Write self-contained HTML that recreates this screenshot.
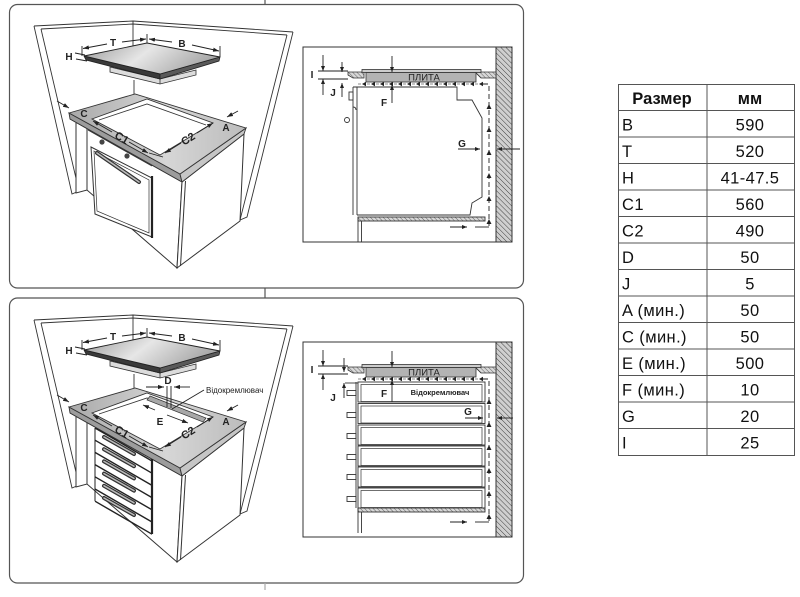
<!DOCTYPE html>
<html><head><meta charset="utf-8"><style>
html,body{margin:0;padding:0;background:#fff;width:800px;height:597px;overflow:hidden}
svg{display:block}
.l{font-family:"Liberation Sans",sans-serif;font-weight:bold;font-size:10px;fill:#222}
.t{font-family:"Liberation Sans",sans-serif;font-size:16.5px;fill:#111;letter-spacing:0.4px}
.tb{font-family:"Liberation Sans",sans-serif;font-size:16.5px;font-weight:bold;fill:#111}
</style></head><body>
<svg width="800" height="597" viewBox="0 0 800 597" xmlns="http://www.w3.org/2000/svg">
<defs>
<marker id="a" viewBox="0 0 10 10" refX="10" refY="5" markerWidth="6" markerHeight="6" orient="auto-start-reverse" markerUnits="userSpaceOnUse"><path d="M0,1.5L10,5L0,8.5z" fill="#222"/></marker>
<marker id="b" viewBox="0 0 10 10" refX="10" refY="5" markerWidth="5" markerHeight="5" orient="auto-start-reverse" markerUnits="userSpaceOnUse"><path d="M0,1L10,5L0,9z" fill="#222"/></marker>
<pattern id="hatch" width="3.6" height="3.6" patternUnits="userSpaceOnUse" patternTransform="rotate(-45)"><rect width="3.6" height="3.6" fill="#cfcfcf"/><line x1="0" y1="0" x2="0" y2="3.6" stroke="#333" stroke-width="0.9"/></pattern>
<pattern id="hatch2" width="3" height="3" patternUnits="userSpaceOnUse" patternTransform="rotate(-45)"><rect width="3" height="3" fill="#d8d8d8"/><line x1="0" y1="0" x2="0" y2="3" stroke="#444" stroke-width="0.8"/></pattern>
<linearGradient id="gc" x1="0" y1="0" x2="1" y2="0"><stop offset="0" stop-color="#a9a9a9"/><stop offset="0.55" stop-color="#d6d6d6"/><stop offset="1" stop-color="#bcbcbc"/></linearGradient>
<linearGradient id="gh" x1="0" y1="0" x2="1" y2="0.3"><stop offset="0" stop-color="#9a9a9a"/><stop offset="0.5" stop-color="#e6e6e6"/><stop offset="1" stop-color="#a8a8a8"/></linearGradient>

<!-- common 3D drawing -->
<g id="c3">
 <g fill="none" stroke="#333" stroke-width="0.9">
  <polyline points="34,26 133,21 293,32"/>
  <polyline points="41,29 133,24 287,35"/>
  <polyline points="34,26 72,194 79,191 41,29"/>
  <polyline points="293,32 247,217 240,220 287,35"/>
  <line x1="133" y1="21" x2="133" y2="46"/>
  <line x1="134" y1="80" x2="134" y2="96"/>
 </g>
 <!-- hob -->
 <polygon points="110,67 160,79 196,70 196,75 160,84 110,72" fill="#dcdcdc" stroke="#333" stroke-width="0.8"/>
 <line x1="160" y1="79" x2="160" y2="84" stroke="#333" stroke-width="0.8"/>
 <polygon points="84,56 160,74 160,79 86,60" fill="#3a3a3a" stroke="#222" stroke-width="0.8"/>
 <polygon points="160,74 220,57 219,61 160,79" fill="#5a5a5a" stroke="#222" stroke-width="0.8"/>
 <polygon points="84,56 147,43 220,57 160,74" fill="url(#gh)" stroke="#222" stroke-width="0.9"/>
 <!-- cabinet -->
 <polygon points="70,119 182,182 177,268 87,190 76,193 76,122" fill="#fff" stroke="#333"/>
 <line x1="87" y1="125" x2="87" y2="190" stroke="#333"/>
 <polygon points="182,182 244,134 240,221 177,268" fill="#fff" stroke="#333"/>
 <line x1="185.5" y1="181" x2="180.5" y2="266" stroke="#333"/>
 <!-- counter -->
 <polygon points="69,113 180,174 182,182 70,119" fill="#9c9c9c" stroke="#333" stroke-width="0.9"/>
 <polygon points="180,174 246,128 244,134 182,182" fill="#c6c6c6" stroke="#333" stroke-width="0.9"/>
 <polygon points="69,113 135,94 246,128 180,174" fill="url(#gc)" stroke="#333" stroke-width="0.9"/>
 <polygon points="92,119 147,99 213,123 160,155" fill="#fff" stroke="#333" stroke-width="0.9"/>
 <polyline points="99,120 147,104 206,125" fill="none" stroke="#333" stroke-width="0.9"/>
 <!-- dims -->
 <g stroke="#222" stroke-width="0.9" fill="none">
  <line x1="82" y1="46" x2="82" y2="56"/>
  <line x1="147" y1="34" x2="147" y2="43"/>
  <line x1="220" y1="46" x2="220" y2="57"/>
  <line x1="107" y1="44" x2="83" y2="48.5" marker-end="url(#a)"/>
  <line x1="122" y1="42" x2="146" y2="39" marker-end="url(#a)"/>
  <line x1="172" y1="42" x2="149" y2="39" marker-end="url(#a)"/>
  <line x1="192" y1="45" x2="219" y2="51" marker-end="url(#a)"/>
  <line x1="75" y1="53" x2="85" y2="55"/>
  <line x1="76" y1="59" x2="87" y2="61"/>
  <line x1="57" y1="101" x2="69" y2="108" marker-end="url(#a)"/>
  <line x1="238" y1="111" x2="227" y2="117" marker-end="url(#a)"/>
  <line x1="112" y1="132" x2="93" y2="121" marker-end="url(#a)"/>
  <line x1="129" y1="142" x2="148" y2="153" marker-end="url(#a)"/>
  <line x1="181" y1="143" x2="165" y2="153" marker-end="url(#a)"/>
  <line x1="197" y1="133" x2="213" y2="123" marker-end="url(#a)"/>
  <line x1="149" y1="153" x2="163" y2="157"/>
 </g>
 <text class="l" x="113" y="46" text-anchor="middle">T</text>
 <text class="l" x="182" y="47" text-anchor="middle">B</text>
 <text class="l" x="69" y="60" text-anchor="middle">H</text>
 <text class="l" x="84" y="117" text-anchor="middle">C</text>
 <text class="l" x="226" y="131" text-anchor="middle">A</text>
 <text class="l" x="0" y="0" text-anchor="middle" style="font-size:11px" transform="translate(120,141) rotate(30)">C1</text>
 <text class="l" x="0" y="0" text-anchor="middle" style="font-size:11px" transform="translate(190,142) rotate(-32)">C2</text>
</g>

<!-- common side view -->
<g id="sv">
 <rect x="303" y="47" width="209" height="195" fill="none" stroke="#333" stroke-width="1"/>
 <rect x="496" y="47" width="16" height="195" fill="url(#hatch)" stroke="#333" stroke-width="1"/>
 <polygon points="348,72 364,72 364,78 353,78 348,75" fill="url(#hatch2)" stroke="#333" stroke-width="0.8"/>
 <polygon points="475,72 496,72 496,78 481,78" fill="url(#hatch2)" stroke="#333" stroke-width="0.8"/>
 <rect x="362" y="69.5" width="119" height="3" fill="#cdcdcd" stroke="#333" stroke-width="0.8"/>
 <rect x="366" y="72.5" width="110" height="9.5" fill="#b3b3b3" stroke="#333" stroke-width="0.8"/>
 <text x="424" y="80.6" text-anchor="middle" style="font-family:'Liberation Sans',sans-serif;font-size:9.5px;fill:#222">ПЛИТА</text>
 <line x1="318" y1="71" x2="348" y2="71" stroke="#222" stroke-width="0.9"/>
 <line x1="318" y1="79" x2="348" y2="79" stroke="#222" stroke-width="0.9"/>
 <line x1="358" y1="84" x2="486" y2="84" stroke="#666" stroke-width="0.7" stroke-dasharray="3,6"/>
 <path fill="#222" d="M362,84l4,-2.2v4.4z M371,84l4,-2.2v4.4z M380,84l4,-2.2v4.4z M389,84l4,-2.2v4.4z M398,84l4,-2.2v4.4z M407,84l4,-2.2v4.4z M416,84l4,-2.2v4.4z M425,84l4,-2.2v4.4z M434,84l4,-2.2v4.4z M443,84l4,-2.2v4.4z M452,84l4,-2.2v4.4z M461,84l4,-2.2v4.4z M470,84l4,-2.2v4.4z M479,84l4,-2.2v4.4z"/>
 <polyline points="483,84 489,84 489,226" fill="none" stroke="#222" stroke-width="0.9" stroke-dasharray="5,3"/>
 <path fill="#222" d="M489,104l-2.5,5h5z M489,127l-2.5,5h5z M489,150l-2.5,5h5z M489,173l-2.5,5h5z M489,196l-2.5,5h5z M489,219l-2.5,5h5z"/>
 <line x1="450" y1="227" x2="467" y2="227" stroke="#222" stroke-width="0.9" marker-end="url(#b)"/>
 <line x1="475" y1="227" x2="489" y2="227" stroke="#222" stroke-width="0.9"/>
 <line x1="323" y1="55" x2="323" y2="71" stroke="#222" stroke-width="0.9" marker-end="url(#b)"/>
 <line x1="392" y1="56" x2="392" y2="72" stroke="#222" stroke-width="0.9" marker-end="url(#b)"/>
</g>
</defs>

<!-- panels -->
<g fill="none" stroke="#555" stroke-width="1.2">
 <rect x="9.5" y="4.5" width="514" height="283.5" rx="8"/>
 <rect x="9.5" y="298" width="514" height="285" rx="8"/>
 <line x1="265" y1="0" x2="265" y2="4"/>
 <line x1="265" y1="288" x2="265" y2="298"/>
 <line x1="265" y1="583" x2="265" y2="590" stroke="#aaa"/>
</g>

<!-- TOP 3D -->
<use href="#c3"/>
<!-- oven -->
<g stroke="#333" fill="none">
 <line x1="88" y1="130" x2="152" y2="166"/>
 <polygon points="91,147 152,178 152,237 95,214" fill="#fff"/>
 <polygon points="94,151 149,180 149,233 97,211" stroke-width="0.7"/>
 <line x1="152" y1="176" x2="152" y2="238" stroke="#222" stroke-width="2.2"/>
 <line x1="97" y1="153" x2="139" y2="182" stroke="#333" stroke-width="4" stroke-linecap="round"/>
 <line x1="97" y1="153" x2="139" y2="182" stroke="#bbb" stroke-width="1.6" stroke-linecap="round"/>
</g>
<circle cx="102" cy="142" r="2.6" fill="#444"/>
<circle cx="127" cy="156" r="2.6" fill="#444"/>

<!-- BOTTOM 3D -->
<use href="#c3" transform="translate(0,294)"/>
<g stroke="#222" fill="none">
 <line x1="95" y1="428" x2="95" y2="501"/>
 <line x1="95" y1="428" x2="152" y2="461" stroke-width="1.4"/>
 <line x1="95" y1="440.2" x2="152" y2="473.2" stroke-width="1.4"/>
 <line x1="95" y1="452.4" x2="152" y2="485.4" stroke-width="1.4"/>
 <line x1="95" y1="464.6" x2="152" y2="497.6" stroke-width="1.4"/>
 <line x1="95" y1="476.8" x2="152" y2="509.8" stroke-width="1.4"/>
 <line x1="95" y1="489" x2="152" y2="522" stroke-width="1.4"/>
 <line x1="95" y1="501.2" x2="152" y2="534.2" stroke-width="1.4"/>
 <line x1="152" y1="459" x2="152" y2="534" stroke-width="2.2"/>
 <g stroke-linecap="round">
  <line x1="104" y1="437" x2="134" y2="454" stroke="#333" stroke-width="4"/>
  <line x1="104" y1="449.2" x2="134" y2="466.2" stroke="#333" stroke-width="4"/>
  <line x1="104" y1="461.4" x2="134" y2="478.4" stroke="#333" stroke-width="4"/>
  <line x1="104" y1="473.6" x2="134" y2="490.6" stroke="#333" stroke-width="4"/>
  <line x1="104" y1="485.8" x2="134" y2="502.8" stroke="#333" stroke-width="4"/>
  <line x1="104" y1="498" x2="134" y2="515" stroke="#333" stroke-width="4"/>
  <line x1="104" y1="437" x2="134" y2="454" stroke="#bbb" stroke-width="1.5"/>
  <line x1="104" y1="449.2" x2="134" y2="466.2" stroke="#bbb" stroke-width="1.5"/>
  <line x1="104" y1="461.4" x2="134" y2="478.4" stroke="#bbb" stroke-width="1.5"/>
  <line x1="104" y1="473.6" x2="134" y2="490.6" stroke="#bbb" stroke-width="1.5"/>
  <line x1="104" y1="485.8" x2="134" y2="502.8" stroke="#bbb" stroke-width="1.5"/>
  <line x1="104" y1="498" x2="134" y2="515" stroke="#bbb" stroke-width="1.5"/>
 </g>
</g>
<polygon points="150,396 206,418 203,422 147,400" fill="#a8a8a8" stroke="#333" stroke-width="0.7"/>
<g stroke="#222" stroke-width="0.9" fill="none">
 <line x1="167" y1="386" x2="167" y2="407"/>
 <line x1="171" y1="386" x2="171" y2="408"/>
 <line x1="146" y1="387" x2="164" y2="387" marker-end="url(#a)"/>
 <line x1="190" y1="387" x2="174" y2="387" marker-end="url(#a)"/>
 <line x1="204" y1="390" x2="172" y2="409"/>
 <line x1="155" y1="410" x2="143" y2="405" marker-end="url(#a)"/>
 <line x1="167" y1="415" x2="188" y2="423" marker-end="url(#a)"/>
</g>
<text class="l" x="168" y="384" text-anchor="middle">D</text>
<text class="l" x="160" y="425" text-anchor="middle">E</text>
<text x="206" y="393" style="font-family:'Liberation Sans',sans-serif;font-size:8px;fill:#222">Відокремлювач</text>

<!-- TOP side view -->
<use href="#sv"/>
<g stroke="#333" fill="none" stroke-width="0.9">
 <polyline points="353,87 457,87 457,100 472,100 482,118 482,197 472,203 470,215 357,215"/>
 <line x1="353" y1="87" x2="353" y2="215"/>
 <line x1="357" y1="87" x2="357" y2="215"/>
 <rect x="349" y="92" width="4" height="8" fill="#fff"/>
 <path d="M353,107 q3,0 3,3"/>
 <circle cx="347" cy="120" r="2.5" fill="#fff"/>
 <rect x="358" y="217" width="127" height="4" fill="url(#hatch2)"/>
 <line x1="358" y1="217" x2="358" y2="242"/>
 <line x1="361.5" y1="221" x2="361.5" y2="242"/>
</g>
<g stroke="#222" stroke-width="0.9">
 <line x1="323" y1="95" x2="323" y2="79" marker-end="url(#b)"/>
 <line x1="342" y1="62" x2="342" y2="72" marker-end="url(#b)"/>
 <line x1="342" y1="97" x2="342" y2="83" marker-end="url(#b)"/>
 <line x1="392" y1="103" x2="392" y2="85" marker-end="url(#b)"/>
 <line x1="458" y1="149" x2="480" y2="149" marker-end="url(#b)"/>
 <line x1="520" y1="149" x2="497" y2="149" marker-end="url(#b)"/>
</g>
<text class="l" x="312" y="78" text-anchor="middle">I</text>
<text class="l" x="333" y="96" text-anchor="middle">J</text>
<text class="l" x="384" y="106" text-anchor="middle">F</text>
<text class="l" x="462" y="147" text-anchor="middle">G</text>

<!-- BOTTOM side view -->
<use href="#sv" transform="translate(0,295)"/>
<g stroke="#333" stroke-width="0.9">
 <g fill="#fff">
  <rect x="358" y="382" width="127" height="20"/>
  <rect x="358" y="403.5" width="127" height="20"/>
  <rect x="358" y="425" width="127" height="20"/>
  <rect x="358" y="446" width="127" height="20"/>
  <rect x="358" y="467" width="127" height="20"/>
  <rect x="358" y="488" width="127" height="20"/>
 </g>
 <g fill="none" stroke-width="0.7">
  <rect x="361" y="384.5" width="121" height="17"/>
  <rect x="361" y="406" width="121" height="17"/>
  <rect x="361" y="427.5" width="121" height="17"/>
  <rect x="361" y="448.5" width="121" height="17"/>
  <rect x="361" y="469.5" width="121" height="17"/>
  <rect x="361" y="490.5" width="121" height="17"/>
 </g>
 <g fill="#fff">
  <rect x="347" y="390.5" width="9" height="5"/>
  <rect x="347" y="412.5" width="9" height="5"/>
  <rect x="347" y="433.5" width="9" height="5"/>
  <rect x="347" y="454.5" width="9" height="5"/>
  <rect x="347" y="474.5" width="9" height="5"/>
  <rect x="347" y="496.5" width="9" height="5"/>
 </g>
 <line x1="356" y1="382" x2="356" y2="508" fill="none"/>
 <rect x="358" y="508" width="127" height="4" fill="url(#hatch2)"/>
 <line x1="358" y1="508" x2="358" y2="533"/>
 <line x1="361.5" y1="512" x2="361.5" y2="533"/>
 <line x1="345" y1="383" x2="358" y2="383"/>
</g>
<g stroke="#222" stroke-width="0.9">
 <line x1="323" y1="390" x2="323" y2="374" marker-end="url(#b)"/>
 <line x1="344" y1="358" x2="344" y2="372" marker-end="url(#b)"/>
 <line x1="344" y1="398" x2="344" y2="383" marker-end="url(#b)"/>
 <line x1="392" y1="402" x2="392" y2="380" marker-end="url(#b)"/>
 <line x1="465" y1="418" x2="483" y2="418" marker-end="url(#b)"/>
 <line x1="513" y1="418" x2="497" y2="418" marker-end="url(#b)"/>
</g>
<text class="l" x="312" y="373" text-anchor="middle">I</text>
<text class="l" x="333" y="401" text-anchor="middle">J</text>
<text class="l" x="384" y="397" text-anchor="middle">F</text>
<text class="l" x="468" y="415" text-anchor="middle">G</text>
<text x="440" y="395" text-anchor="middle" style="font-family:'Liberation Sans',sans-serif;font-size:7.5px;font-weight:bold;fill:#222">Відокремлювач</text>

<!-- TABLE -->
<g stroke="#555" stroke-width="1" fill="none">
 <rect x="618.5" y="84.5" width="176" height="371"/>
 <line x1="707" y1="84" x2="707" y2="455"/>
 <line x1="618" y1="110.5" x2="794" y2="110.5"/>
 <line x1="618" y1="137" x2="794" y2="137"/>
 <line x1="618" y1="163.5" x2="794" y2="163.5"/>
 <line x1="618" y1="190" x2="794" y2="190"/>
 <line x1="618" y1="216.5" x2="794" y2="216.5"/>
 <line x1="618" y1="243" x2="794" y2="243"/>
 <line x1="618" y1="269.5" x2="794" y2="269.5"/>
 <line x1="618" y1="296" x2="794" y2="296"/>
 <line x1="618" y1="322.5" x2="794" y2="322.5"/>
 <line x1="618" y1="349" x2="794" y2="349"/>
 <line x1="618" y1="375.5" x2="794" y2="375.5"/>
 <line x1="618" y1="402" x2="794" y2="402"/>
 <line x1="618" y1="428.5" x2="794" y2="428.5"/>
</g>
<text class="tb" x="662" y="104" text-anchor="middle">Размер</text>
<text class="tb" x="750" y="104" text-anchor="middle">мм</text>
<g class="t">
 <text class="t" x="622" y="130.5">B</text><text class="t" x="750" y="130.5" text-anchor="middle">590</text>
 <text class="t" x="622" y="157">T</text><text class="t" x="750" y="157" text-anchor="middle">520</text>
 <text class="t" x="622" y="183.5">H</text><text class="t" x="750" y="183.5" text-anchor="middle">41-47.5</text>
 <text class="t" x="622" y="210">C1</text><text class="t" x="750" y="210" text-anchor="middle">560</text>
 <text class="t" x="622" y="236.5">C2</text><text class="t" x="750" y="236.5" text-anchor="middle">490</text>
 <text class="t" x="622" y="263">D</text><text class="t" x="750" y="263" text-anchor="middle">50</text>
 <text class="t" x="622" y="289.5">J</text><text class="t" x="750" y="289.5" text-anchor="middle">5</text>
 <text class="t" x="622" y="316">A (мин.)</text><text class="t" x="750" y="316" text-anchor="middle">50</text>
 <text class="t" x="622" y="342.5">C (мин.)</text><text class="t" x="750" y="342.5" text-anchor="middle">50</text>
 <text class="t" x="622" y="369">E (мин.)</text><text class="t" x="750" y="369" text-anchor="middle">500</text>
 <text class="t" x="622" y="395.5">F (мин.)</text><text class="t" x="750" y="395.5" text-anchor="middle">10</text>
 <text class="t" x="622" y="422">G</text><text class="t" x="750" y="422" text-anchor="middle">20</text>
 <text class="t" x="622" y="448.5">I</text><text class="t" x="750" y="448.5" text-anchor="middle">25</text>
</g>
</svg>
</body></html>
